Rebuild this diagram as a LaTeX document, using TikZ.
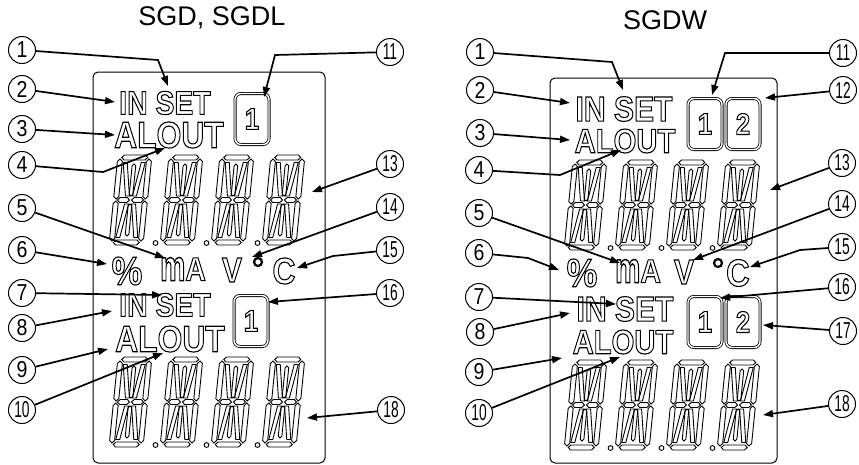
\documentclass[tikz,border=0pt]{standalone}
\usepackage{fontspec}
\setmainfont{Liberation Sans}
\usetikzlibrary{arrows.meta}

% outlined LCD text: size, text
\newcommand{\lcdtxt}[2]{\fontsize{#1}{#1}\selectfont\bfseries\scalebox{0.86}[1]{\special{pdf:literal direct 1 Tr 1.1 w}#2\special{pdf:literal direct 0 Tr}}}
\newcommand{\tallm}{\scalebox{1}[1.3]{m}}
\newcommand{\cnum}[1]{\scalebox{0.85}[1]{#1}}
\newcommand{\cnumm}[1]{\scalebox{0.6}[1]{#1}}

% segments of a 14-segment digit
\newcommand{\lcdh}[3]{\draw (#1,#3) -- ({#1+2.5},{#3-2.5}) -- ({#2-2.5},{#3-2.5}) -- (#2,#3) -- ({#2-2.5},{#3+2.5}) -- ({#1+2.5},{#3+2.5}) -- cycle;}
\newcommand{\lcdv}[4]{\draw (#1,#2) -- ({#1+#4},{#2+#4}) -- ({#1+#4},{#3-#4}) -- (#1,#3) -- ({#1-#4},{#3-#4}) -- ({#1-#4},{#2+#4}) -- cycle;}
\newcommand{\lcdd}[4]{\draw ({#1-2},#2) -- ({#1+2},#2) -- ({#3+2},#4) -- ({#3-2},#4) -- cycle;}
\newcommand{\lcddigit}[2]{%
  \begin{scope}[shift={({#1},{#2})}, xslant=0.1, line width=0.9pt]
    \lcdh{4}{30}{2.5} \lcdh{4}{16}{45} \lcdh{18}{30}{45} \lcdh{4}{30}{87.5}
    \lcdv{2.5}{4}{44}{2.5} \lcdv{2.5}{46}{86}{2.5} \lcdv{31.5}{4}{44}{2.5} \lcdv{31.5}{46}{86}{2.5}
    \lcdv{17}{9}{41}{1.8} \lcdv{17}{49}{81}{1.8}
    \lcdd{8}{7.5}{13.5}{41} \lcdd{26}{7.5}{20.5}{41}
    \lcdd{13.5}{49}{8}{82.5} \lcdd{20.5}{49}{26}{82.5}
  \end{scope}}
\newcommand{\lcdrow}[2]{%
  \foreach \k in {0,1,2,3} {\lcddigit{#1+51*\k}{#2}}
  \foreach \k in {0,1,2} {\draw[line width=0.9pt] ({#1+37.5+51*\k},{#2+88}) circle[radius=2.4pt];}}

\begin{document}
\begin{tikzpicture}[x=1pt,y=-1pt]
  \tikzstyle{num}=[circle, draw, line width=1pt, minimum size=27pt, inner sep=0pt, font=\fontsize{23}{23}\selectfont]
  \tikzstyle{arr}=[line width=1.7pt, -{Triangle[length=10pt,width=7pt]}]
  \tikzstyle{panel}=[line width=1pt, rounded corners=5pt]
  \tikzstyle{lcd}=[inner sep=0pt]
  \tikzstyle{chbox}=[draw, double, double distance=1.4pt, line width=0.8pt, rounded corners=6pt, inner sep=0pt, minimum width=34pt, minimum height=51pt]
  \tikzstyle{deg}=[circle, draw, line width=2.2pt, minimum size=8pt, inner sep=0pt]
  \tikzstyle{title}=[font=\fontsize{27}{27}\selectfont]

  \useasboundingbox (0,0) rectangle (859,464);

  % titles
  \node[title] (Ltitle) at (212,18) {SGD, SGDL};
  \node[title] (Rtitle) at (665,20) {SGDW};

  % left panel
  \draw[panel] (93,72) rectangle (325,463);
  \node[lcd] (Lin) at (165,103) {\lcdtxt{33}{IN SET}};
  \node[lcd] (Lal) at (169,135) {\lcdtxt{37}{ALOUT}};
  \node[chbox] (Lbox) at (252,119) {\lcdtxt{30}{1}};
  \lcdrow{118}{155}
  \node[lcd] (Lpct) at (127,271) {\lcdtxt{40}{\%}};
  \node[lcd] (Lma) at (183,269) {\lcdtxt{33}{\tallm A}};
  \node[lcd] (Lv) at (232,270) {\lcdtxt{35}{V}};
  \node[deg] (Ldeg) at (258,262) {};
  \node[lcd] (Lc) at (284,271) {\lcdtxt{37}{C}};
  \node[lcd] (Lin2) at (165,305) {\lcdtxt{33}{IN SET}};
  \node[lcd] (Lal2) at (170,339) {\lcdtxt{37}{ALOUT}};
  \node[chbox] (Lbox2) at (251,321) {\lcdtxt{30}{1}};
  \lcdrow{118}{357}

  % right panel
  \draw[panel] (550,78) rectangle (777,463);
  \node[lcd] (Rin) at (624,109) {\lcdtxt{35}{IN SET}};
  \node[lcd] (Ral) at (625,141) {\lcdtxt{34}{ALOUT}};
  \node[chbox] (Rbox) at (705,124) {\lcdtxt{30}{1}};
  \node[chbox] (Rboxb) at (743,124) {\lcdtxt{30}{2}};
  \lcdrow{573}{160}
  \node[lcd] (Rpct) at (582,273) {\lcdtxt{40}{\%}};
  \node[lcd] (Rma) at (638,271) {\lcdtxt{33}{\tallm A}};
  \node[lcd] (Rv) at (684,272) {\lcdtxt{35}{V}};
  \node[deg] (Rdeg) at (718,263) {};
  \node[lcd] (Rc) at (738,273) {\lcdtxt{38}{C}};
  \node[lcd] (Rin2) at (625,309) {\lcdtxt{35}{IN SET}};
  \node[lcd] (Ral2) at (623,342) {\lcdtxt{34}{ALOUT}};
  \node[chbox] (Rbox2) at (705,322) {\lcdtxt{30}{1}};
  \node[chbox] (Rboxb2) at (743,322) {\lcdtxt{30}{2}};
  \lcdrow{573}{360}

  % callouts, left
  \node[num] (L_1) at (22,50) {\cnum{1}};
  \node[num] (L_2) at (22,89) {\cnum{2}};
  \node[num] (L_3) at (22,129) {\cnum{3}};
  \node[num] (L_4) at (22,165) {\cnum{4}};
  \node[num] (L_5) at (22,208) {\cnum{5}};
  \node[num] (L_6) at (22,250) {\cnum{6}};
  \node[num] (L_7) at (22,293) {\cnum{7}};
  \node[num] (L_8) at (22,328) {\cnum{8}};
  \node[num] (L_9) at (22,370) {\cnum{9}};
  \node[num] (L_10) at (22,410) {\cnumm{10}};
  \node[num] (L_11) at (390,52) {\cnumm{11}};
  \node[num] (L_13) at (390,164) {\cnumm{13}};
  \node[num] (L_14) at (390,207) {\cnumm{14}};
  \node[num] (L_15) at (390,250) {\cnumm{15}};
  \node[num] (L_16) at (390,293) {\cnumm{16}};
  \node[num] (L_18) at (391,410) {\cnumm{18}};

  \coordinate (La_1) at (168,86);
  \coordinate (La_2) at (115,102);
  \coordinate (La_3) at (115,135);
  \coordinate (La_4) at (165,148);
  \coordinate (La_5) at (165,258);
  \coordinate (La_6) at (107,264);
  \coordinate (La_7) at (162,295);
  \coordinate (La_8) at (112,311);
  \coordinate (La_9) at (108,349);
  \coordinate (La_10) at (163,353);
  \coordinate (La_11) at (264,97);
  \coordinate (La_13) at (312,192);
  \coordinate (La_14) at (252,257);
  \coordinate (La_15) at (297,268);
  \coordinate (La_16) at (268,302);
  \coordinate (La_18) at (307,418);

  \draw[arr] (L_1) -- (158,60) -- (La_1);
  \draw[arr] (L_2) -- (La_2);
  \draw[arr] (L_3) -- (La_3);
  \draw[arr] (L_4) -- (103,172) -- (La_4);
  \draw[arr] (L_5) -- (La_5);
  \draw[arr] (L_6) -- (La_6);
  \draw[arr] (L_7) -- (La_7);
  \draw[arr] (L_8) -- (La_8);
  \draw[arr] (L_9) -- (La_9);
  \draw[arr] (L_10) -- (La_10);
  \draw[arr] (L_11) -- (275,55) -- (La_11);
  \draw[arr] (L_13) -- (La_13);
  \draw[arr] (L_14) -- (La_14);
  \draw[arr] (L_15) -- (333,256) -- (La_15);
  \draw[arr] (L_16) -- (La_16);
  \draw[arr] (L_18) -- (La_18);

  % callouts, right
  \node[num] (R_1) at (480,52) {\cnum{1}};
  \node[num] (R_2) at (480,90) {\cnum{2}};
  \node[num] (R_3) at (480,133) {\cnum{3}};
  \node[num] (R_4) at (479,170) {\cnum{4}};
  \node[num] (R_5) at (479,213) {\cnum{5}};
  \node[num] (R_6) at (479,253) {\cnum{6}};
  \node[num] (R_7) at (479,297) {\cnum{7}};
  \node[num] (R_8) at (480,332) {\cnum{8}};
  \node[num] (R_9) at (479,372) {\cnum{9}};
  \node[num] (R_10) at (479,413) {\cnumm{10}};
  \node[num] (R_11) at (843,53) {\cnumm{11}};
  \node[num] (R_12) at (843,90) {\cnumm{12}};
  \node[num] (R_13) at (842,163) {\cnumm{13}};
  \node[num] (R_14) at (842,204) {\cnumm{14}};
  \node[num] (R_15) at (842,247) {\cnumm{15}};
  \node[num] (R_16) at (842,287) {\cnumm{16}};
  \node[num] (R_17) at (843,331) {\cnumm{17}};
  \node[num] (R_18) at (842,404) {\cnumm{18}};

  \coordinate (Ra_1) at (623,90);
  \coordinate (Ra_2) at (570,103);
  \coordinate (Ra_3) at (570,140);
  \coordinate (Ra_4) at (621,150);
  \coordinate (Ra_5) at (620,263);
  \coordinate (Ra_6) at (559,270);
  \coordinate (Ra_7) at (616,304);
  \coordinate (Ra_8) at (570,313);
  \coordinate (Ra_9) at (562,358);
  \coordinate (Ra_10) at (620,357);
  \coordinate (Ra_11) at (712,95);
  \coordinate (Ra_12) at (765,98);
  \coordinate (Ra_13) at (770,190);
  \coordinate (Ra_14) at (693,260);
  \coordinate (Ra_15) at (750,267);
  \coordinate (Ra_16) at (720,298);
  \coordinate (Ra_17) at (763,325);
  \coordinate (Ra_18) at (763,415);

  \draw[arr] (R_1) -- (612,62) -- (Ra_1);
  \draw[arr] (R_2) -- (Ra_2);
  \draw[arr] (R_3) -- (Ra_3);
  \draw[arr] (R_4) -- (560,175) -- (Ra_4);
  \draw[arr] (R_5) -- (Ra_5);
  \draw[arr] (R_6) -- (528,258) -- (Ra_6);
  \draw[arr] (R_7) -- (Ra_7);
  \draw[arr] (R_8) -- (Ra_8);
  \draw[arr] (R_9) -- (Ra_9);
  \draw[arr] (R_10) -- (Ra_10);
  \draw[arr] (R_11) -- (725,53) -- (Ra_11);
  \draw[arr] (R_12) -- (Ra_12);
  \draw[arr] (R_13) -- (Ra_13);
  \draw[arr] (R_14) -- (Ra_14);
  \draw[arr] (R_15) -- (800,250) -- (Ra_15);
  \draw[arr] (R_16) -- (Ra_16);
  \draw[arr] (R_17) -- (Ra_17);
  \draw[arr] (R_18) -- (Ra_18);
\end{tikzpicture}
\end{document}
